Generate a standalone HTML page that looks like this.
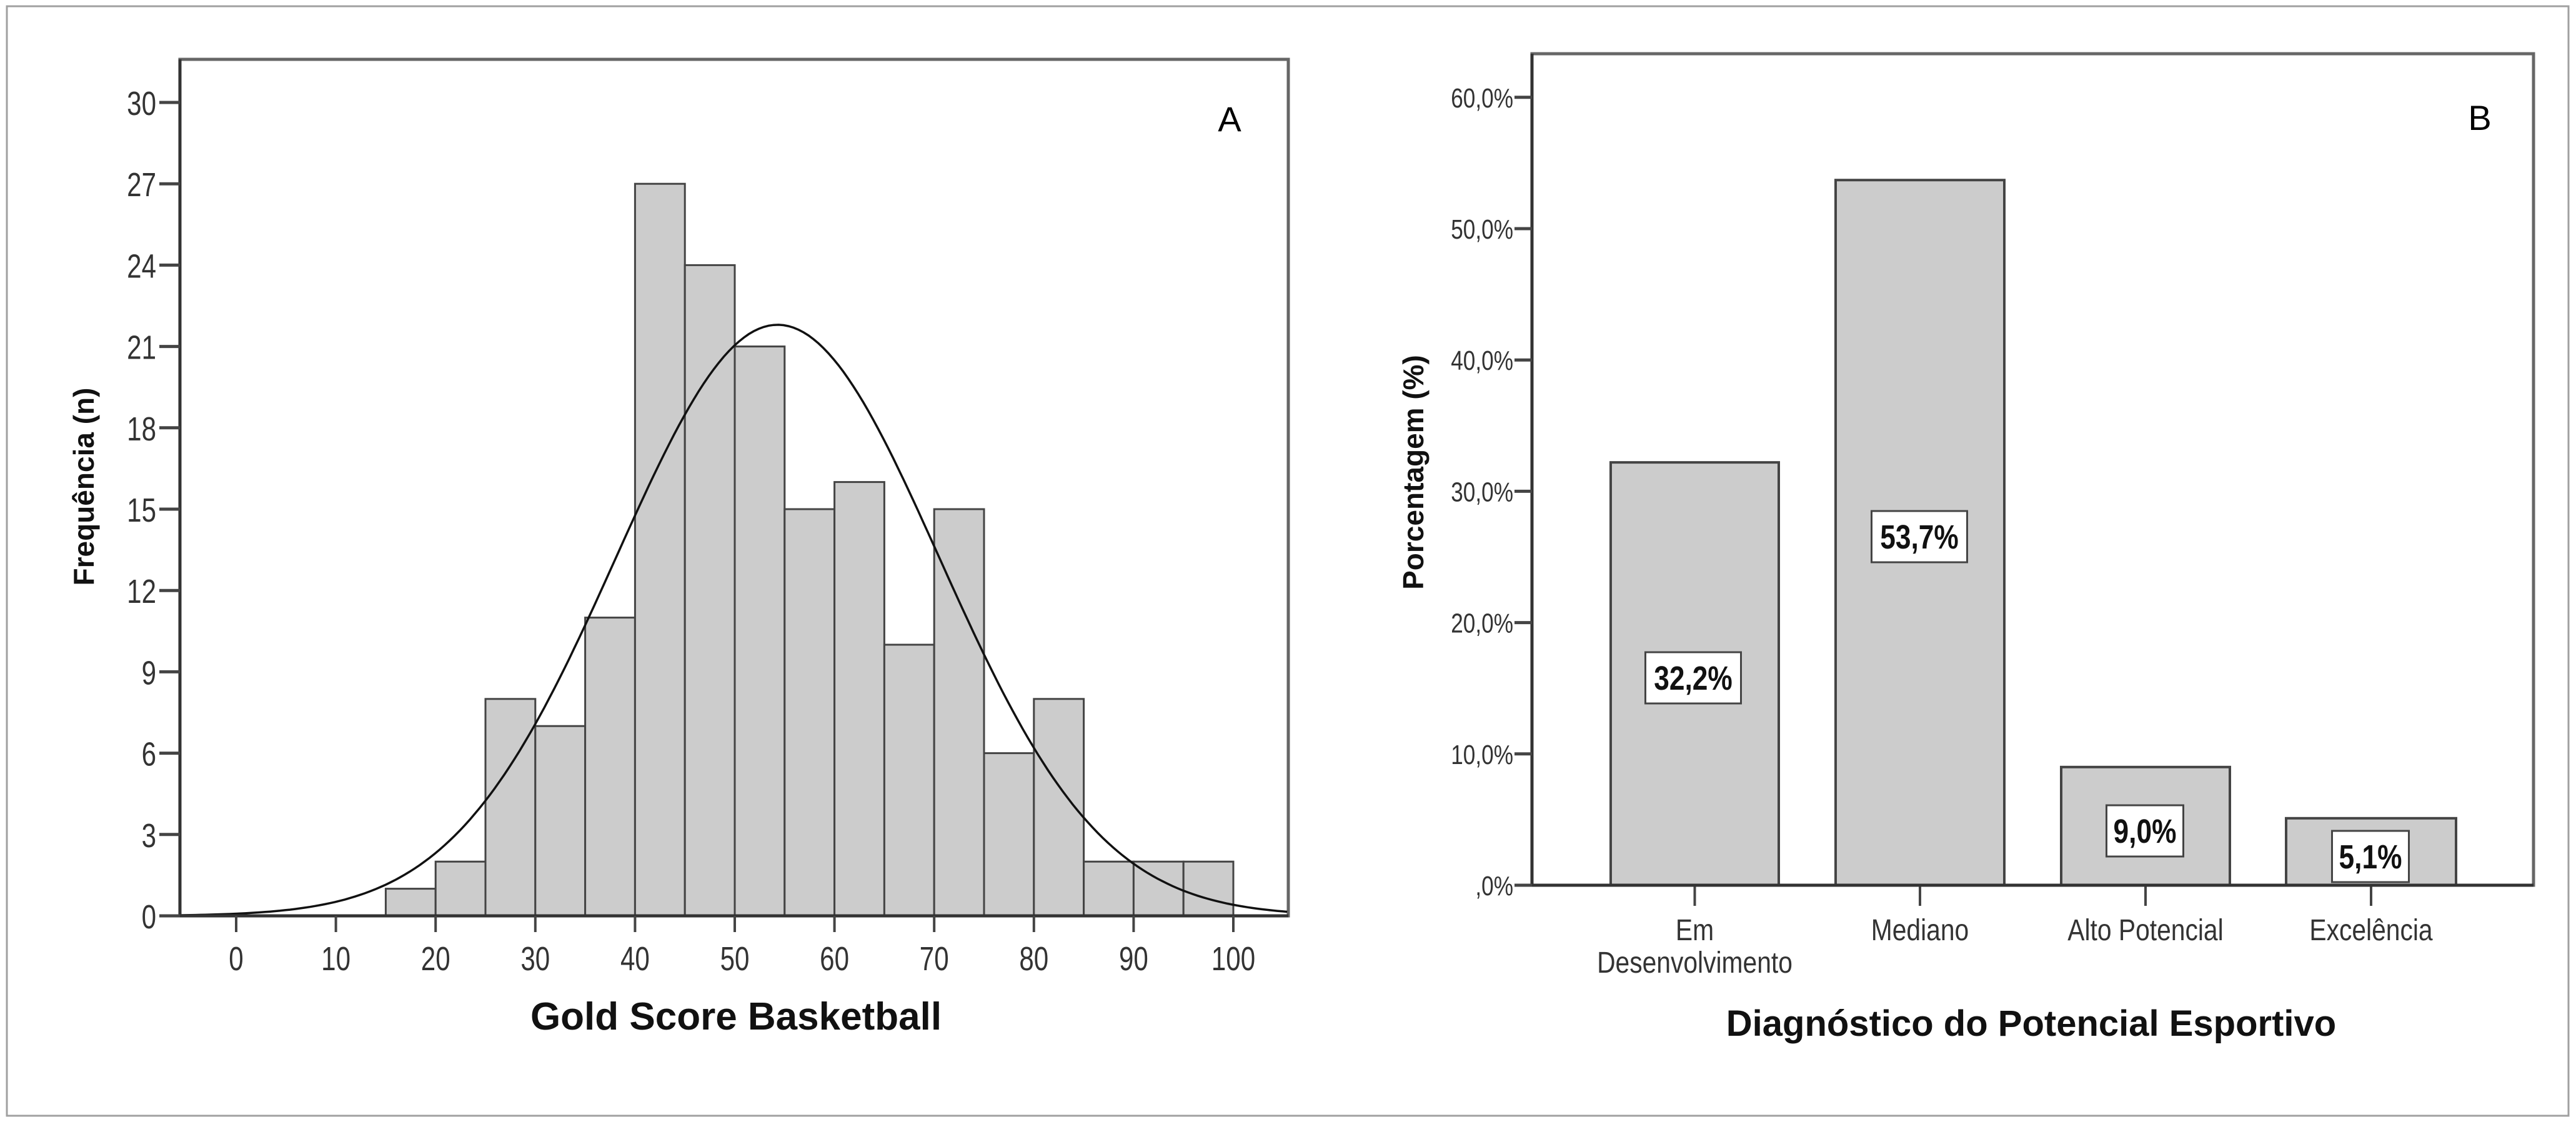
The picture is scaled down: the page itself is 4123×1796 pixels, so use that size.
<!DOCTYPE html>
<html><head><meta charset="utf-8"><style>
html,body{margin:0;padding:0;background:#fff}
svg{display:block}
text{font-family:"Liberation Sans",Arial,sans-serif}
</style></head><body>
<svg id="s" width="4123" height="1796" viewBox="0 0 4123 1796" xmlns="http://www.w3.org/2000/svg">
<rect x="11" y="10" width="4100" height="1776" fill="none" stroke="#a0a0a0" stroke-width="3"/>
<g id="A"></g>
<g id="B"></g>
<text x="1968" y="210" font-size="56" text-anchor="middle" fill="#000">A</text>
<text x="3969" y="208" font-size="56" text-anchor="middle" fill="#000">B</text>
<text x="1178" y="1648" font-size="62" font-weight="bold" text-anchor="middle" fill="#111">Gold Score Basketball</text>
<text transform="translate(150,779) rotate(-90)" font-size="46" font-weight="bold" text-anchor="middle" fill="#111">Frequência (n)</text>
<text x="3251" y="1658" font-size="58" font-weight="bold" text-anchor="middle" fill="#111">Diagnóstico do Potencial Esportivo</text>
<text transform="translate(2278,756) rotate(-90)" font-size="46" font-weight="bold" text-anchor="middle" fill="#111">Porcentagem (%)</text>
</svg>
<script>
var NS="http://www.w3.org/2000/svg";
function el(p,t,a,txt){var e=document.createElementNS(NS,t);for(var k in a)e.setAttribute(k,a[k]);if(txt!=null)e.textContent=txt;p.appendChild(e);return e;}
var A=document.getElementById("A");
function X(v){return 378+15.96*v;} function Y(n){return 1466-43.4*n;}
el(A,"rect",{x:288,y:95,width:1774,height:1371,fill:"#fff",stroke:"#666","stroke-width":5});
var bins=[[15,1],[20,2],[25,8],[30,7],[35,11],[40,27],[45,24],[50,21],[55,15],[60,16],[65,10],[70,15],[75,6],[80,8],[85,2],[90,2],[95,2]];
bins.forEach(function(b){el(A,"rect",{x:X(b[0]),y:Y(b[1]),width:X(b[0]+5)-X(b[0]),height:Y(0)-Y(b[1]),fill:"#cccccc",stroke:"#444","stroke-width":3});});
var d="";for(var v=-5.6;v<=105.6;v+=0.5){var f=21.8*Math.exp(-Math.pow(v-54.3,2)/(2*16.2*16.2));d+=(d?"L":"M")+X(v).toFixed(1)+" "+Y(f).toFixed(1);}
el(A,"path",{d:d,fill:"none",stroke:"#111","stroke-width":3.5});
el(A,"line",{x1:288,y1:1466,x2:2062,y2:1466,stroke:"#333","stroke-width":5});
el(A,"line",{x1:288,y1:95,x2:288,y2:1466,stroke:"#333","stroke-width":5});
for(var n=0;n<=30;n+=3){var y=Y(n);el(A,"line",{x1:255,y1:y,x2:288,y2:y,stroke:"#444","stroke-width":5});
el(A,"text",{x:250,y:y+20,"font-size":54,"text-anchor":"end",fill:"#333",transform:"translate(250 0) scale(0.78 1) translate(-250 0)"},String(n));}
for(var v=0;v<=100;v+=10){var x=X(v);el(A,"line",{x1:x,y1:1466,x2:x,y2:1492,stroke:"#444","stroke-width":4});
el(A,"text",{x:x,y:1553,"font-size":54,"text-anchor":"middle",fill:"#333",transform:"translate("+x+" 0) scale(0.78 1) translate("+(-x)+" 0)"},String(v));}
var B=document.getElementById("B");
function YB(p){return 1417-21.02*p;}
el(B,"rect",{x:2452,y:86,width:1603,height:1331,fill:"#fff",stroke:"#666","stroke-width":5});
var bars=[[2578,2847,32.2,"32,2%",2710,1085,153],[2938,3208,53.7,"53,7%",3072,859,153],[3299,3569,9.0,"9,0%",3433,1330,123],[3659,3931,5.1,"5,1%",3794,1371,123]];
var names=[["Em","Desenvolvimento"],["Mediano"],["Alto Potencial"],["Excelência"]];
bars.forEach(function(b,i){el(B,"rect",{x:b[0],y:YB(b[2]),width:b[1]-b[0],height:1417-YB(b[2]),fill:"#cccccc",stroke:"#444","stroke-width":4});
el(B,"rect",{x:b[4]-b[6]/2,y:b[5]-41,width:b[6],height:82,fill:"#fff",stroke:"#444","stroke-width":3});
el(B,"text",{x:b[4],y:b[5]+19,"font-size":54,"font-weight":"bold","text-anchor":"middle",fill:"#111",transform:"translate("+b[4]+" 0) scale(0.82 1) translate("+(-b[4])+" 0)"},b[3]);
var cx=(b[0]+b[1])/2;el(B,"line",{x1:cx,y1:1417,x2:cx,y2:1450,stroke:"#444","stroke-width":4});
names[i].forEach(function(s,j){el(B,"text",{x:cx,y:1505+j*52,"font-size":48,"text-anchor":"middle",fill:"#333",transform:"translate("+cx+" 0) scale(0.85 1) translate("+(-cx)+" 0)"},s);});});
el(B,"line",{x1:2452,y1:1417,x2:4055,y2:1417,stroke:"#333","stroke-width":5});
el(B,"line",{x1:2452,y1:86,x2:2452,y2:1417,stroke:"#333","stroke-width":5});
for(var p=0;p<=60;p+=10){var y=YB(p);el(B,"line",{x1:2424,y1:y,x2:2452,y2:y,stroke:"#444","stroke-width":5});
el(B,"text",{x:2422,y:y+16,"font-size":44,"text-anchor":"end",fill:"#333",transform:"translate(2422 0) scale(0.8 1) translate(-2422 0)"},(p?p:"")+",0%");}
</script>
</body></html>
